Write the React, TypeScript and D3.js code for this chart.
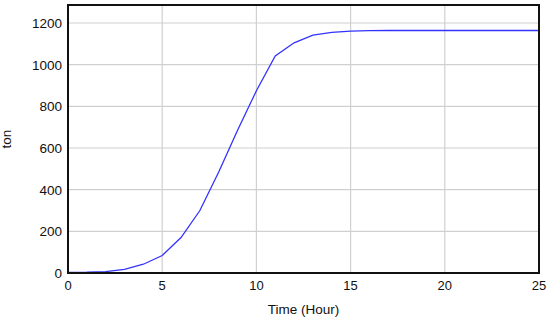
import React from "react";
import * as d3 from "d3";

const hours = [0,1,2,3,4,5,6,7,8,9,10,11,12,13,14,15,16,17,18,19,20,21,22,23,24,25];
const tons = [3,4,7,17,42,84,170,300,485,685,875,1042,1105,1142,1155,1161,1163,1164,1164,1164,1164,1164,1164,1164,1164,1164];
const xTicks = [0,5,10,15,20,25];
const yTicks = [0,200,400,600,800,1000,1200];
const xTitle = "Time (Hour)";
const yTitle = "ton";

export default function App() {
  const W = 550, H = 323;
  const left = 68, right = 539, top = 5, bottom = 273;
  const x = d3.scaleLinear().domain([0, 25]).range([left, right]);
  const y = d3.scaleLinear().domain([0, 1286.4]).range([bottom, top]);
  const line = d3.line<number>().x((_, i) => x(hours[i])).y((d) => y(d));
  const font = "'Liberation Sans', Arial, sans-serif";
  return (
    <svg width={W} height={H} style={{ position: "absolute", left: 0, top: 0 }} fontFamily={font}>
      <rect x={0} y={0} width={W} height={H} fill="#fff" />
      {xTicks.map((t) => (
        <line key={"gx" + t} x1={x(t)} x2={x(t)} y1={top} y2={bottom} stroke="#d0d0d0" strokeWidth={1.2} />
      ))}
      {yTicks.map((t) => (
        <line key={"gy" + t} x1={left} x2={right} y1={y(t)} y2={y(t)} stroke="#d0d0d0" strokeWidth={1.2} />
      ))}
      <path d={line(tons) || ""} fill="none" stroke="#3333ff" strokeWidth={1.3} />
      <rect x={left} y={top} width={right - left} height={bottom - top} fill="none" stroke="#111" strokeWidth={2} />
      {xTicks.map((t) => (
        <text key={"tx" + t} x={x(t)} y={290} textAnchor="middle" fontSize={13} fill="#111">{t}</text>
      ))}
      {yTicks.map((t) => (
        <text key={"ty" + t} x={62} y={y(t) + 5} textAnchor="end" fontSize={13.5} fill="#111">{t}</text>
      ))}
      <text x={(left + right) / 2} y={314} textAnchor="middle" fontSize={13.5} fill="#111">{xTitle}</text>
      <text transform={`translate(11,${(top + bottom) / 2}) rotate(-90)`} textAnchor="middle" fontSize={13.5} fill="#111">{yTitle}</text>
    </svg>
  );
}
